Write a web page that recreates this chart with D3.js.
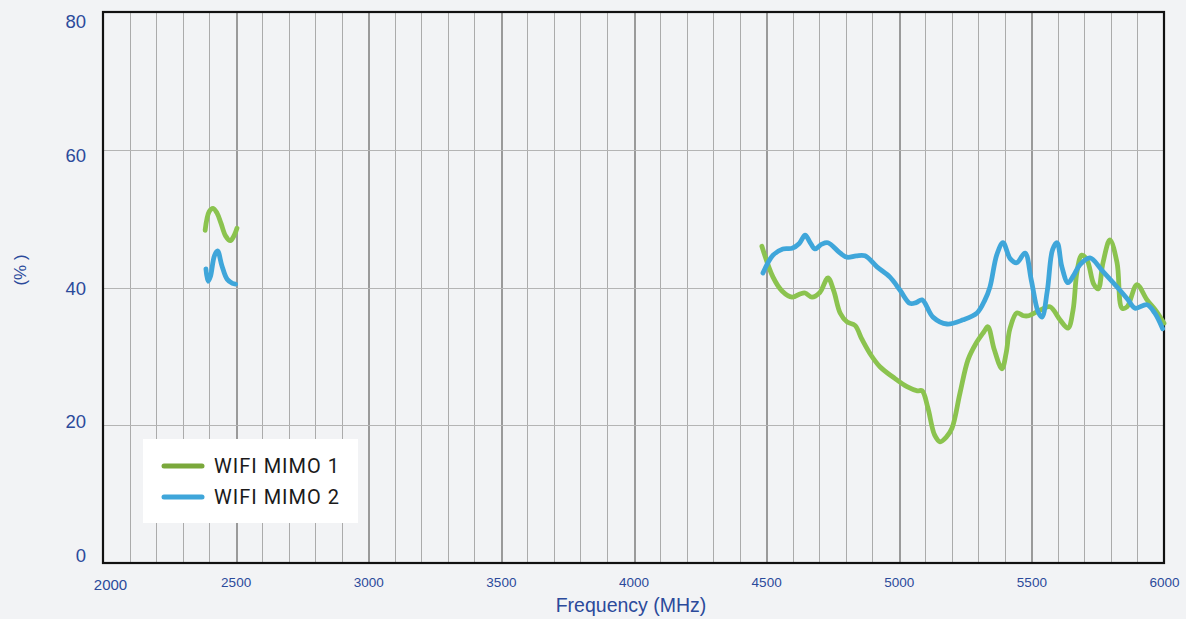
<!DOCTYPE html>
<html>
<head>
<meta charset="utf-8">
<script src="https://d3js.org/d3.v7.min.js"></script>
<style>
  body { margin: 0; background: #f2f3f5; }
  .grid line { shape-rendering: crispEdges; }
  .tick-label { fill: #2b4a9b; font-family: "Liberation Sans", Arial, sans-serif; }
</style>
</head>
<body>
<svg id="chart"></svg>
<script>
const WIDTH  = 1186;
const HEIGHT = 619;
const MARGIN = { top: 12, right: 22, bottom: 56, left: 103 };
const INNER_WIDTH  = WIDTH - MARGIN.left - MARGIN.right;
const INNER_HEIGHT = HEIGHT - MARGIN.top - MARGIN.bottom;

// tick labels
const xTicks = [2000, 2500, 3000, 3500, 4000, 4500, 5000, 5500, 6000];
const yTicks = [0, 20, 40, 60, 80];

// WIFI MIMO 1, 2.4 GHz band
const mimo1Low = [
  [2385, 48.3], [2400, 51.0], [2415, 51.5], [2430, 50.8], [2445, 49.3],
  [2462, 47.5], [2480, 46.8], [2495, 47.6], [2505, 48.6]
];
// WIFI MIMO 2, 2.4 GHz band
const mimo2Low = [
  [2388, 42.7], [2396, 40.9], [2405, 41.6], [2420, 44.6], [2432, 45.3],
  [2448, 43.2], [2468, 41.2], [2488, 40.6], [2500, 40.5]
];
// WIFI MIMO 1, 5 GHz band
const mimo1High = [
  [4484, 46.0], [4526, 41.5], [4560, 39.5], [4598, 38.6], [4630, 39.1],
  [4647, 39.2], [4673, 38.6], [4703, 39.3], [4733, 41.4], [4755, 39.5],
  [4779, 36.3], [4805, 35.0], [4835, 34.5], [4861, 32.5], [4895, 30.2],
  [4929, 28.5], [4978, 27.0], [5031, 25.6], [5070, 25.0], [5088, 25.0],
  [5110, 22.5], [5135, 18.6], [5156, 17.6], [5180, 18.3], [5201, 19.6],
  [5231, 24.7], [5261, 29.5], [5290, 31.8], [5320, 33.5], [5336, 34.3],
  [5360, 31.0], [5389, 28.2], [5405, 30.5], [5419, 34.0], [5445, 36.3],
  [5470, 35.9], [5490, 35.9], [5532, 36.7], [5570, 37.2], [5608, 35.3],
  [5638, 34.1], [5657, 36.7], [5672, 42.3], [5690, 44.7], [5710, 44.0],
  [5735, 40.5], [5752, 39.8], [5770, 43.6], [5796, 46.9], [5823, 43.6],
  [5842, 37.0], [5861, 37.2], [5898, 40.4], [5936, 38.2], [5970, 36.6],
  [6000, 34.8]
];
// WIFI MIMO 2, 5 GHz band
const mimo2High = [
  [4488, 42.1], [4526, 44.7], [4563, 45.6], [4598, 45.7], [4625, 46.4],
  [4647, 47.6], [4665, 46.6], [4684, 45.6], [4710, 46.3], [4733, 46.5],
  [4779, 45.0], [4805, 44.4], [4840, 44.6], [4873, 44.6], [4918, 43.0],
  [4967, 41.5], [5005, 39.6], [5042, 37.7], [5065, 37.8], [5088, 38.2],
  [5129, 35.7], [5182, 34.7], [5242, 35.3], [5295, 36.3], [5325, 38.2],
  [5344, 40.1], [5370, 44.8], [5393, 46.5], [5420, 44.2], [5445, 43.6],
  [5476, 45.0], [5500, 41.0], [5525, 36.5], [5540, 35.7], [5560, 39.5],
  [5580, 45.5], [5597, 46.5], [5615, 43.0], [5638, 40.7], [5660, 41.8],
  [5683, 43.3], [5721, 44.3], [5766, 42.5], [5834, 39.6], [5865, 38.2],
  [5891, 37.0], [5936, 37.5], [5965, 36.3], [5995, 34.0]
];

const seriesNames  = ['WIFI MIMO 1', 'WIFI MIMO 2'];
const seriesColors = ['#8bc34f', '#3fa6da'];
const legendColors = ['#7aa83b', '#3fa6da'];

const svg = d3.select('#chart')
  .attr('width', WIDTH)
  .attr('height', HEIGHT);

const g = svg.append('g')
  .attr('transform', 'translate(' + MARGIN.left + ',' + MARGIN.top + ')');

const x = d3.scaleLinear().domain([2000, 6000]).range([0, INNER_WIDTH]);
const y = d3.scaleLinear().domain([0, 80]).range([INNER_HEIGHT, 0]);

// vertical grid every 100 MHz
const gridX = d3.range(2100, 6000, 100);
g.append('g').attr('class', 'grid')
  .selectAll('line')
  .data(gridX)
  .join('line')
    .attr('x1', d => Math.round(x(d)) + 0.5)
    .attr('x2', d => Math.round(x(d)) + 0.5)
    .attr('y1', 0)
    .attr('y2', INNER_HEIGHT)
    .attr('stroke', d => d % 500 === 0 ? '#9a9a9a' : '#ababab')
    .attr('stroke-width', d => d % 500 === 0 ? 2 : 1.5);

// horizontal grid
g.append('g').attr('class', 'grid')
  .selectAll('line')
  .data([20, 40, 60])
  .join('line')
    .attr('x1', 0)
    .attr('x2', INNER_WIDTH)
    .attr('y1', d => Math.round(y(d)) + 0.5)
    .attr('y2', d => Math.round(y(d)) + 0.5)
    .attr('stroke', '#b4b4b4')
    .attr('stroke-width', 1.5);

// frame
g.append('rect')
  .attr('x', 0).attr('y', 0)
  .attr('width', INNER_WIDTH).attr('height', INNER_HEIGHT)
  .attr('fill', 'none')
  .attr('stroke', '#111')
  .attr('stroke-width', 2.2);

// axes (labels only)
const xAxis = d3.axisBottom(x).tickValues(xTicks).tickSize(0).tickPadding(13).tickFormat(d3.format('d'));
const gx = g.append('g')
  .attr('transform', 'translate(0,' + INNER_HEIGHT + ')')
  .call(xAxis)
  .call(a => a.select('.domain').remove());
gx.selectAll('text')
  .attr('class', 'tick-label')
  .attr('font-size', d => d === 2000 ? 15 : 13.5)
  .attr('dx', d => d === 2000 ? 7 : 0)
  .attr('dy', d => d === 2000 ? '0.95em' : '0.8em');

// the y labels in the source sit slightly pulled toward the middle
const yAxis = d3.axisLeft(y).tickValues(yTicks).tickSize(0).tickPadding(17);
const gy = g.append('g')
  .call(yAxis)
  .call(a => a.select('.domain').remove());
gy.selectAll('text')
  .attr('class', 'tick-label')
  .attr('font-size', 18.5)
  .attr('y', d => (d - 40) * 0.22 + 1)
  .attr('dy', '0.32em');

// axis titles
svg.append('text')
  .attr('x', 631)
  .attr('y', 612)
  .attr('text-anchor', 'middle')
  .attr('class', 'tick-label')
  .attr('font-size', 19.5)
  .text('Frequency (MHz)');

svg.append('text')
  .attr('transform', 'translate(26,270) rotate(-90)')
  .attr('text-anchor', 'middle')
  .attr('class', 'tick-label')
  .attr('font-size', 17)
  .text('(% )');

// curves
const line = d3.line()
  .x(d => x(d[0]))
  .y(d => y(d[1]))
  .curve(d3.curveCatmullRom.alpha(0.5));

const curves = [
  { data: mimo1Low,  color: seriesColors[0] },
  { data: mimo1High, color: seriesColors[0] },
  { data: mimo2Low,  color: seriesColors[1] },
  { data: mimo2High, color: seriesColors[1] }
];

g.selectAll('path.curve')
  .data(curves)
  .join('path')
    .attr('class', 'curve')
    .attr('d', d => line(d.data))
    .attr('fill', 'none')
    .attr('stroke', d => d.color)
    .attr('stroke-width', 4.8)
    .attr('stroke-linecap', 'round')
    .attr('stroke-linejoin', 'round');

// legend
const legend = svg.append('g').attr('transform', 'translate(143,439)');
legend.append('rect')
  .attr('width', 215).attr('height', 84)
  .attr('fill', '#ffffff');

const items = legend.selectAll('g.item')
  .data(seriesNames)
  .join('g')
    .attr('class', 'item')
    .attr('transform', (d, i) => 'translate(0,' + (27 + i * 31) + ')');

items.append('line')
  .attr('x1', 21).attr('x2', 59)
  .attr('stroke', (d, i) => legendColors[i])
  .attr('stroke-width', 5)
  .attr('stroke-linecap', 'round');

items.append('text')
  .attr('x', 71)
  .attr('y', 0)
  .attr('dy', '0.36em')
  .attr('font-family', 'Roboto, "DejaVu Sans", sans-serif')
  .attr('font-size', 20)
  .attr('letter-spacing', 1)
  .attr('fill', '#1a1a1a')
  .text(d => d);
</script>
</body>
</html>
